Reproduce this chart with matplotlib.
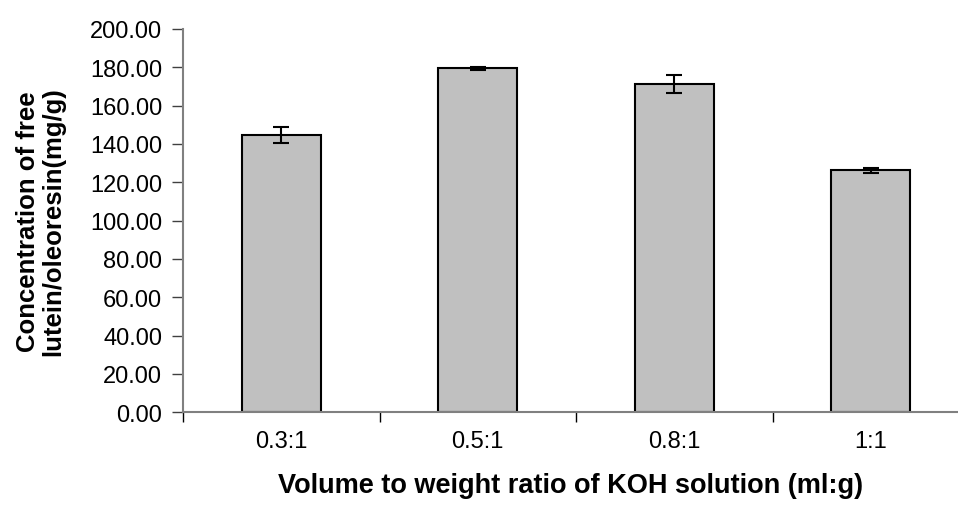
import numpy as np
import matplotlib.pyplot as plt
from matplotlib.ticker import FormatStrFormatter, FixedLocator

# data
ratios = ['0.3:1', '0.5:1', '0.8:1', '1:1']
lutein = [144.5, 179.6, 171.5, 126.2]
lutein_err = [4.2, 0.8, 4.7, 1.1]

plt.rcParams['font.family'] = ['Liberation Sans', 'DejaVu Sans']

fig = plt.figure(figsize=(9.58, 5.10), dpi=100)
ax = fig.add_axes([183 / 958, 1 - 413.3 / 510, (958 - 183) / 958, (413.3 - 30) / 510])

x = np.arange(len(ratios))
ax.bar(x, lutein, width=0.4, color='#C0C0C0', edgecolor='black', linewidth=1.5,
       yerr=lutein_err, capsize=5.5, error_kw=dict(elinewidth=1.5, capthick=1.5, ecolor='black'))

ax.set_xlim(-0.5, 3.444)
ax.set_ylim(0, 200)
ax.set_yticks(np.arange(0, 201, 20))
ax.yaxis.set_major_formatter(FormatStrFormatter('%.2f'))

# category ticks sit between the bars, labels under the bars
ax.xaxis.set_major_locator(FixedLocator(np.arange(-0.5, 3.5, 1.0)))
ax.set_xticklabels([])
ax.set_xticks(x, minor=True)
ax.set_xticklabels(ratios, minor=True)
ax.tick_params(axis='x', which='minor', length=0, pad=13, labelsize=17)
ax.tick_params(axis='x', which='major', length=7, width=1, color='black')
ax.tick_params(axis='y', length=8, width=1, color='#404040', labelsize=17, pad=7)

for side in ['top', 'right']:
    ax.spines[side].set_visible(False)
for side in ['left', 'bottom']:
    ax.spines[side].set_color('#808080')
    ax.spines[side].set_linewidth(1.5)

ax.set_xlabel('Volume to weight ratio of KOH solution (ml:g)', fontsize=19.5, fontweight='bold', labelpad=14)
ax.set_ylabel('Concentration of free\nlutein/oleoresin(mg/g)', fontsize=18.5, fontweight='bold',
              labelpad=18, linespacing=1.05)

fig.savefig('out.png', dpi=100)
